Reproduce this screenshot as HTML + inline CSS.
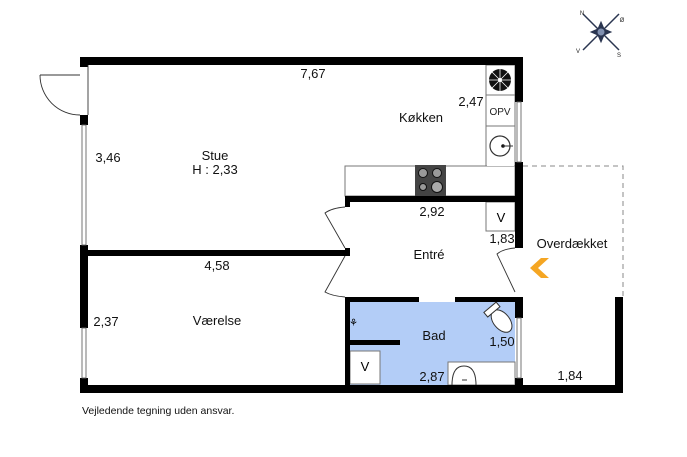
<!DOCTYPE html>
<html><head><meta charset="utf-8"><style>
html,body{margin:0;padding:0;background:#fff;}
svg{display:block;font-family:"Liberation Sans",sans-serif;}
</style></head><body>
<svg width="687" height="457" viewBox="0 0 687 457" xmlns="http://www.w3.org/2000/svg">
<rect x="350" y="302" width="165" height="83" fill="#b3cdf7"/>
<path d="M523 166 H623 V297" fill="none" stroke="#888" stroke-width="1" stroke-dasharray="5,4"/>
<rect x="345" y="166" width="170" height="30" fill="#fff" stroke="#777" stroke-width="1"/>
<rect x="486" y="65" width="29" height="101" fill="#fff" stroke="#777" stroke-width="1"/>
<line x1="486" y1="95" x2="515" y2="95" stroke="#777"/>
<line x1="486" y1="126" x2="515" y2="126" stroke="#777"/>
<rect x="487" y="126" width="27" height="40" fill="#fff"/>
<line x1="486" y1="126" x2="515" y2="126" stroke="#777"/>
<line x1="486" y1="126" x2="486" y2="166" stroke="#777"/>
<circle cx="500" cy="80" r="11" fill="#111"/>
<g stroke="#fff" stroke-width="0.8">
<line x1="489" y1="80" x2="511" y2="80"/><line x1="500" y1="69" x2="500" y2="91"/>
<line x1="492" y1="72" x2="508" y2="88"/><line x1="508" y1="72" x2="492" y2="88"/>
</g>
<circle cx="500" cy="80" r="2" fill="#fff"/>
<text x="500" y="115" font-size="10" text-anchor="middle" fill="#222">OPV</text>
<circle cx="500" cy="146" r="10" fill="none" stroke="#333" stroke-width="1.2"/>
<circle cx="503" cy="146" r="1.8" fill="#111"/>
<line x1="503" y1="146" x2="513" y2="146" stroke="#333"/>
<rect x="415" y="165" width="31" height="31" fill="#444"/>
<circle cx="423" cy="173" r="4.5" fill="#999" stroke="#111"/>
<circle cx="437" cy="173" r="4.5" fill="#999" stroke="#111"/>
<circle cx="423" cy="187" r="3.5" fill="#999" stroke="#111"/>
<circle cx="437" cy="187" r="5.5" fill="#aaa" stroke="#111"/>
<rect x="486" y="202" width="29" height="29" fill="#fff" stroke="#777"/>
<text x="501" y="222" font-size="13" text-anchor="middle">V</text>
<rect x="350" y="351" width="30" height="33" fill="#fff" stroke="#777"/>
<text x="365" y="371" font-size="13" text-anchor="middle">V</text>
<rect x="448" y="362" width="67" height="23" fill="#fff" stroke="#777"/>
<path d="M452 385 Q452 366 464 366 Q476 366 476 385" fill="none" stroke="#333"/>
<line x1="462" y1="380" x2="467" y2="380" stroke="#333"/>
<g transform="translate(499,318) rotate(-40)">
<ellipse cx="0" cy="4" rx="8" ry="13" fill="#fff" stroke="#333"/>
<rect x="-8" y="-14" width="16" height="6" fill="#fff" stroke="#333"/>
</g>
<text x="349" y="326" font-size="10">&#x2698;</text>
<g fill="#000">
<rect x="80" y="57" width="443" height="8"/>
<rect x="80" y="57" width="8" height="10"/>
<rect x="80" y="115" width="8" height="10"/>
<rect x="80" y="245" width="8" height="83"/>
<rect x="80" y="378" width="8" height="15"/>
<rect x="80" y="385" width="543" height="8"/>
<rect x="515" y="57" width="8" height="45"/>
<rect x="515" y="162" width="8" height="86"/>
<rect x="515" y="297" width="8" height="21"/>
<rect x="515" y="378" width="8" height="15"/>
<rect x="615" y="297" width="8" height="96"/>
<rect x="80" y="250" width="270" height="6"/>
<rect x="345" y="196" width="170" height="6"/>
<rect x="345" y="196" width="5" height="11"/>
<rect x="345" y="248" width="5" height="8"/>
<rect x="345" y="297" width="5" height="96"/>
<rect x="345" y="297" width="74" height="5"/>
<rect x="455" y="297" width="60" height="5"/>
<rect x="350" y="340" width="50" height="5"/>
</g>
<g fill="#fff" stroke="#666" stroke-width="0.9">
<rect x="82" y="125" width="4" height="120"/>
<rect x="82" y="328" width="4" height="50"/>
<rect x="517" y="102" width="4" height="60"/>
<rect x="517" y="318" width="4" height="60"/>
</g>
<g fill="none" stroke="#333" stroke-width="0.9">
<line x1="88" y1="65" x2="88" y2="115"/>
<path d="M40 75 H80 M40 75 A40 40 0 0 0 80 115"/>
<path d="M345 207 Q332 208 325 213 L345 248"/>
<path d="M345 297 Q332 296 325 292 L345 256"/>
<path d="M515 248 Q503 249 497 254 L515 292"/>
</g>
<path d="M549 258 L538 268 L549 278 L541 278 L530 268 L541 258 Z" fill="#f5a623"/>
<g font-size="13" fill="#111" text-anchor="middle">
<text x="313" y="78">7,67</text>
<text x="471" y="106">2,47</text>
<text x="421" y="122">Køkken</text>
<text x="108" y="162">3,46</text>
<text x="215" y="160">Stue</text>
<text x="215" y="174">H : 2,33</text>
<text x="432" y="216">2,92</text>
<text x="502" y="243">1,83</text>
<text x="429" y="259">Entré</text>
<text x="572" y="248">Overdækket</text>
<text x="217" y="270">4,58</text>
<text x="106" y="326">2,37</text>
<text x="217" y="325">Værelse</text>
<text x="434" y="340">Bad</text>
<text x="502" y="346">1,50</text>
<text x="432" y="381">2,87</text>
<text x="570" y="380">1,84</text>
</g>
<text x="82" y="414" font-size="10.5" fill="#111">Vejledende tegning uden ansvar.</text>
<g transform="translate(601,32)" fill="#2a3550" stroke="#2a3550">
<line x1="-18" y1="-18" x2="18" y2="18" stroke-width="1.5"/>
<line x1="18" y1="-18" x2="-18" y2="18" stroke-width="1.5"/>
<path d="M0 -10 L3 -3 L10 0 L3 3 L0 10 L-3 3 L-10 0 L-3 -3 Z"/>
<circle r="4" fill="#8090b0"/>
<g font-size="6" stroke="none" fill="#222" text-anchor="middle">
<text x="-19" y="-17">N</text><text x="21" y="-10">Ø</text><text x="-23" y="21">V</text><text x="18" y="25">S</text>
</g>
</g>
</svg>
</body></html>
